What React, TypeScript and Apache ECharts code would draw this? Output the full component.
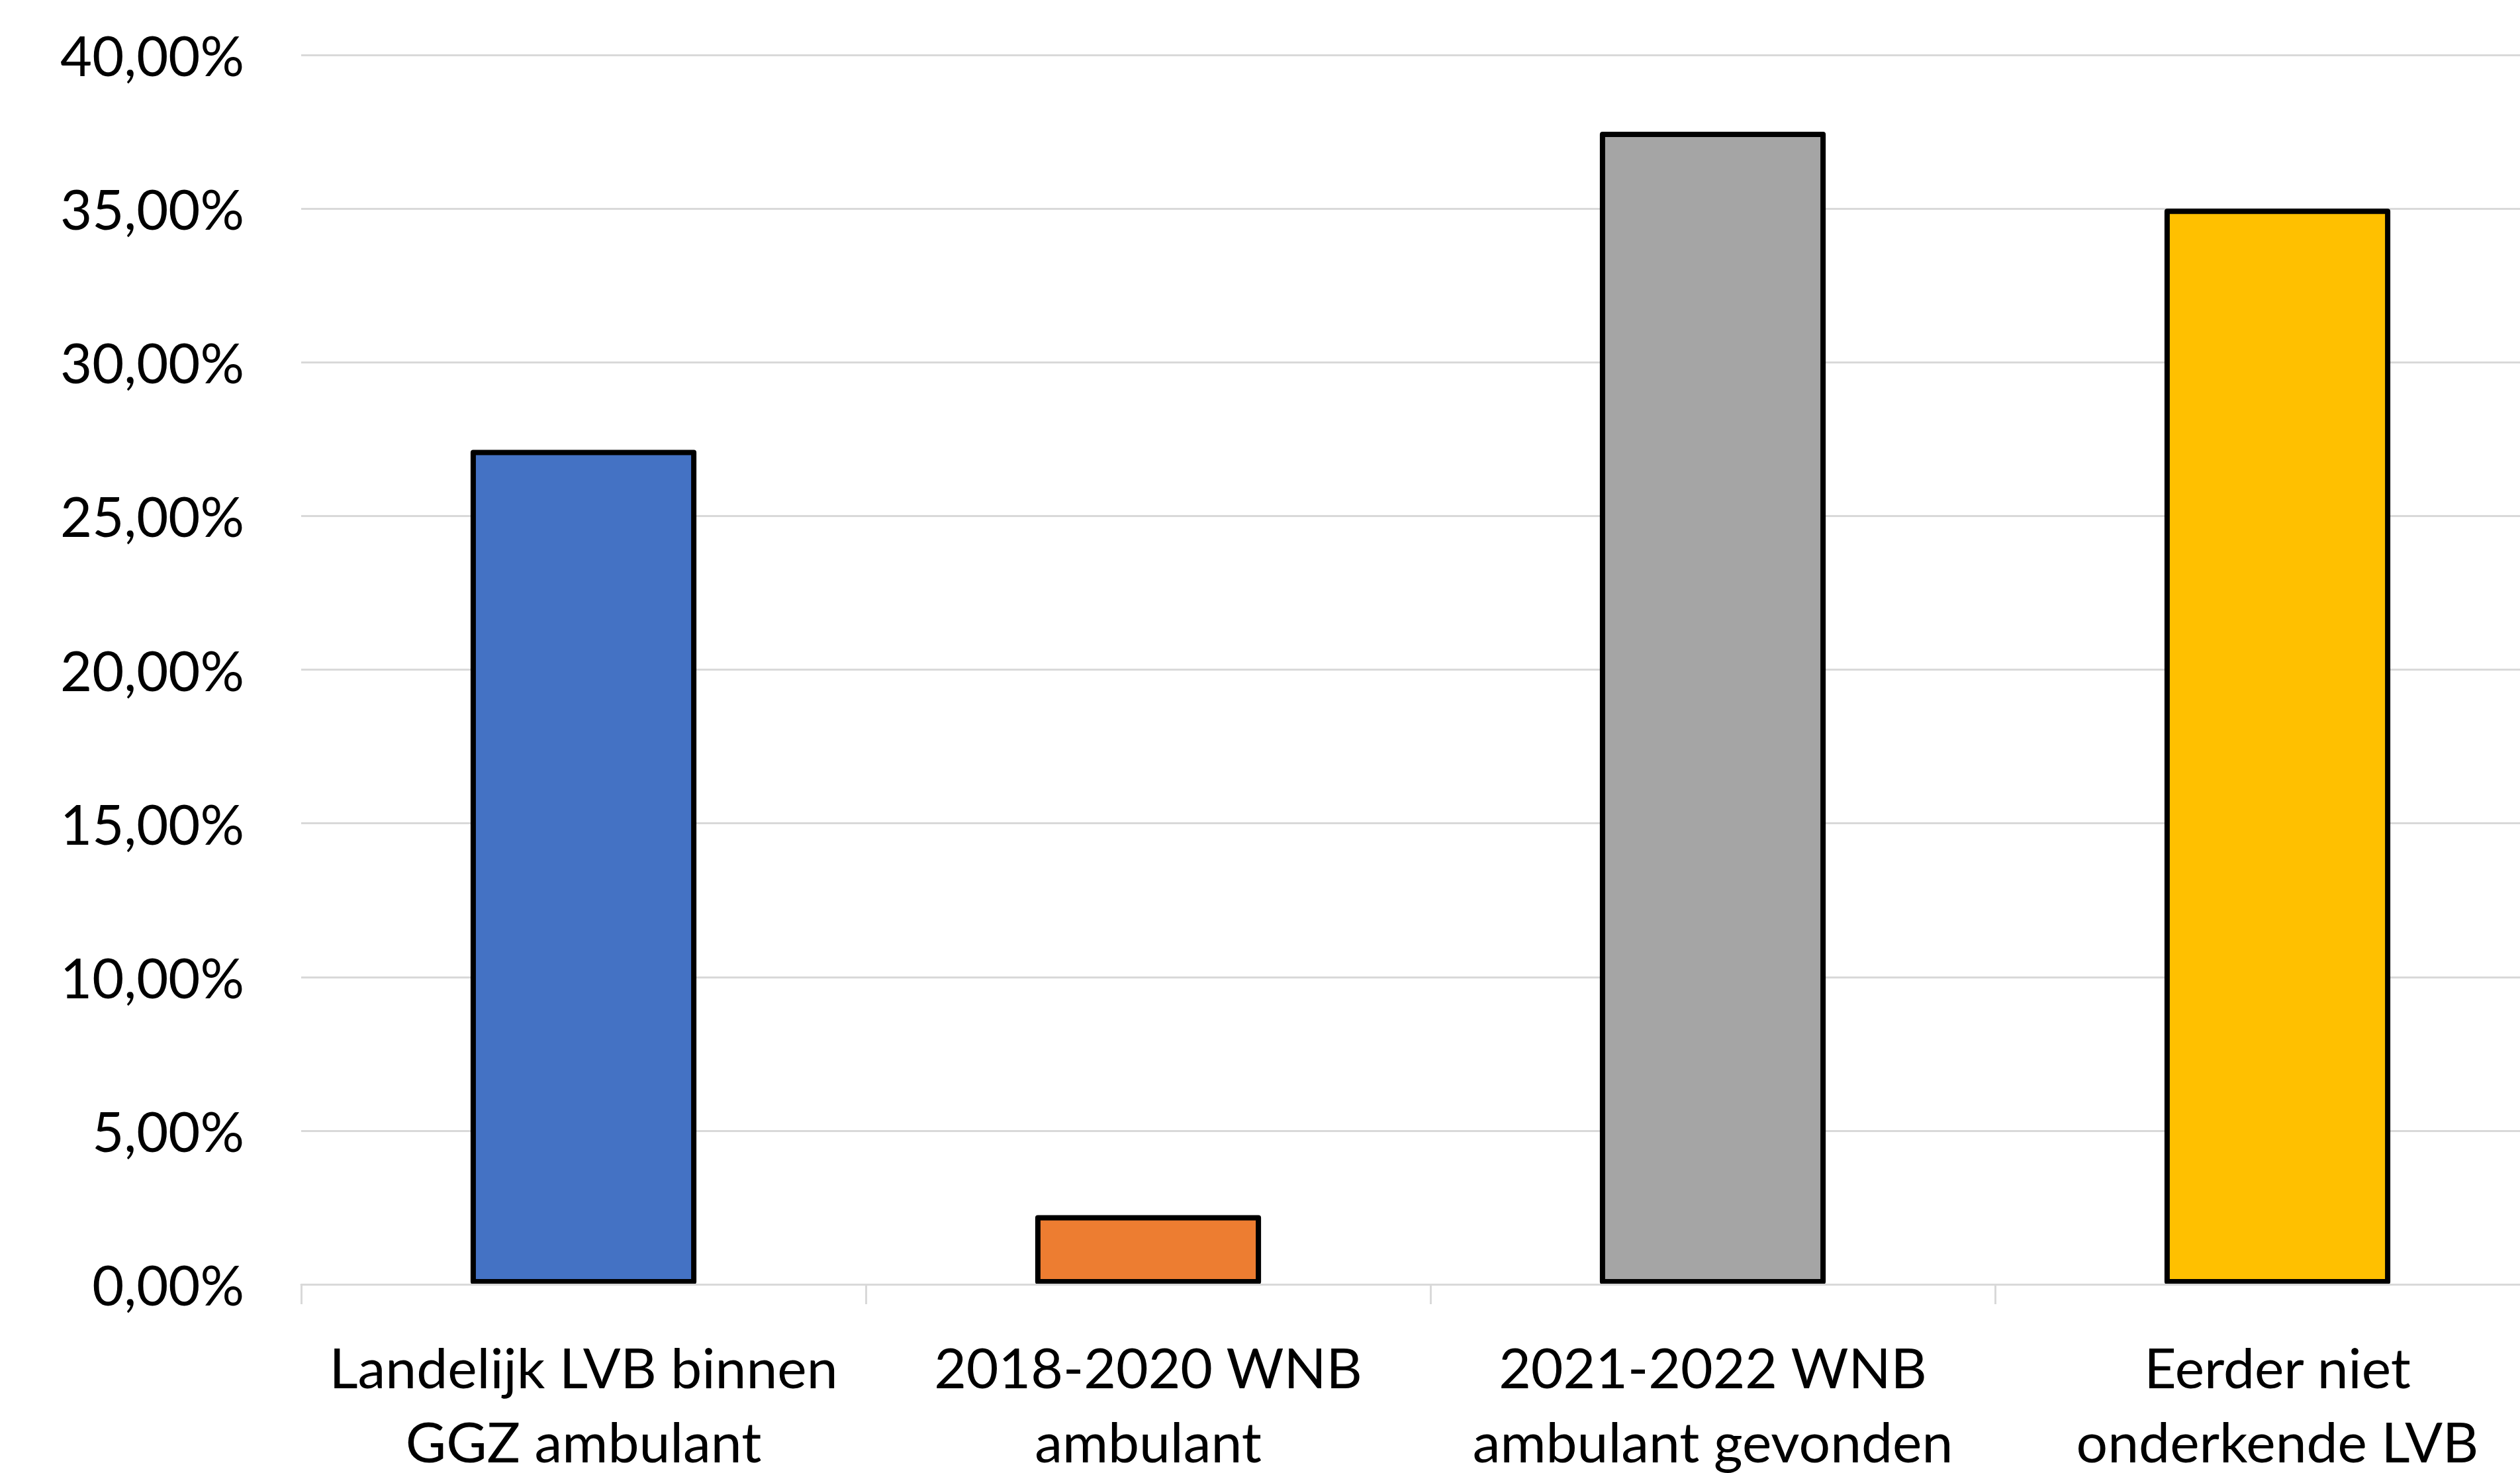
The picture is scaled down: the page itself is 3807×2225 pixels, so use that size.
import React, { useEffect, useRef } from "react";
import * as echarts from "echarts";

const categories = [
  "Landelijk LVB binnen\nGGZ ambulant",
  "2018-2020 WNB\nambulant",
  "2021-2022 WNB\nambulant gevonden",
  "Eerder niet\nonderkende LVB",
];
const values = [27.15, 2.25, 37.5, 35.0];
const barColors = ["#4472C4", "#ED7D31", "#A5A5A5", "#FFC000"];
const yMin = 0;
const yMax = 40;
const yInterval = 5;

const FONT = "Lato";

export default function App() {
  const ref = useRef<HTMLDivElement>(null);
  useEffect(() => {
    document.body.style.margin = "0";
    document.body.style.overflow = "hidden";
    document.documentElement.style.overflow = "hidden";
    const chart = echarts.init(ref.current!, null, { renderer: "svg" });
    chart.setOption({
      animation: false,
      backgroundColor: "#ffffff",
      grid: {
        left: 455,
        top: 83,
        width: 3412,
        bottom: 285,
        containLabel: false,
        outerBoundsMode: "none",
      },
      xAxis: {
        type: "category",
        data: categories,
        z: 5,
        axisLine: { show: true, lineStyle: { color: "#d9d9d9", width: 3 } },
        axisTick: { show: true, length: 30, lineStyle: { color: "#d9d9d9", width: 3 } },
        axisLabel: {
          interval: 0,
          margin: 68,
          color: "#000000",
          fontFamily: FONT,
          fontSize: 84,
          lineHeight: 112,
        },
      },
      yAxis: {
        type: "value",
        min: yMin,
        max: yMax,
        interval: yInterval,
        axisLine: { show: false },
        axisTick: { show: false },
        splitLine: { show: true, lineStyle: { color: "#d9d9d9", width: 3 } },
        axisLabel: {
          margin: 86,
          color: "#000000",
          fontFamily: FONT,
          fontSize: 83,
          formatter: (v: number) => v.toFixed(2).replace(".", ",") + "%",
        },
      },
      series: [
        {
          type: "bar",
          barWidth: "40%",
          clip: true,
          data: values.map((v, i) => ({
            value: v,
            itemStyle: {
              color: barColors[i],
              borderColor: "#000000",
              borderWidth: 8,
              borderJoin: "round",
            },
          })),
        },
      ],
    });
    return () => chart.dispose();
  }, []);
  return (
    <div
      ref={ref}
      style={{ width: 3807, height: 2225, overflow: "hidden", position: "relative" }}
    />
  );
}
